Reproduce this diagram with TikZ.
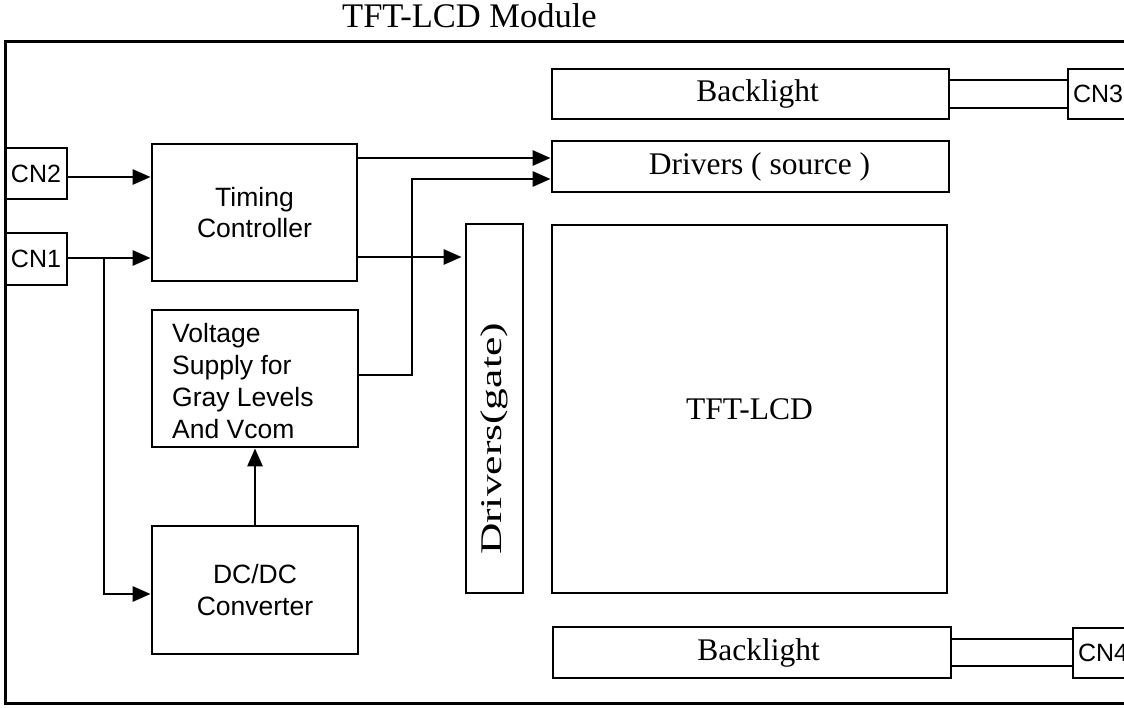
\documentclass[tikz,border=0pt]{standalone}
\usepackage{fontspec}
\usepackage{graphicx}
\setmainfont{Liberation Serif}
\newfontfamily\arialf{Liberation Sans}
\usetikzlibrary{arrows.meta}
\begin{document}
\begin{tikzpicture}[x=1pt,y=-1pt,
  box/.style={draw, line width=2.8pt, inner sep=0pt},
  serif/.style={font=\fontsize{31.5}{38}\selectfont},
  sans/.style={font=\arialf\fontsize{26.5}{31.5}\selectfont},
  cnfont/.style={font=\arialf\fontsize{25}{30}\selectfont},
  arr/.style={line width=2.8pt, -{Triangle[length=18pt,width=15pt]}},
  wire/.style={line width=2.8pt},
  frame/.style={draw, line width=3pt}]
\useasboundingbox (0,0) rectangle (1124,707);
\clip (0,0) rectangle (1124,707);
\fill[white] (0,0) rectangle (1124,707);

% title and module frame
\node[font=\fontsize{34.5}{41}\selectfont, anchor=base, inner sep=0pt] (title) at (469.5,27) {TFT-LCD Module};
\draw[frame] (5,41) rectangle (1140,703);

% connectors (left)
\node[box, cnfont, minimum width=62pt, minimum height=51pt] (cn2) at (36,173.5) {CN2};
\node[box, cnfont, minimum width=62pt, minimum height=52pt] (cn1) at (36,259) {CN1};

% blocks
\node[box, sans, align=center, minimum width=205pt, minimum height=137pt] (tc) at (254.5,212.5) {Timing\\Controller};
\node[box, minimum width=206pt, minimum height=137pt] (vs) at (255,378.5) {};
\node[sans, anchor=base west, inner sep=0pt] (vstxt) at (172,342)
  {\vtop{\baselineskip=32pt\hbox{Voltage}\hbox{Supply for}\hbox{Gray Levels}\hbox{And Vcom}}};
\node[box, sans, align=center, minimum width=206pt, minimum height=128pt] (dc) at (255,590) {DC/DC\\Converter};

\node[box, minimum width=57pt, minimum height=369pt] (gate) at (494.5,408.5) {};
\node[font=\fontsize{30}{36}\selectfont, rotate=90, inner sep=0pt] (gatetxt) at (494.5,439) {\scalebox{1.45}[1]{Drivers(gate)}};

\node[box, serif, minimum width=395pt, minimum height=368pt] (tft) at (749.5,409) {TFT-LCD};
\node[box, serif, minimum width=397pt, minimum height=50pt] (bl1) at (750.5,94) {\hspace*{14pt}Backlight};
\node[box, serif, minimum width=397pt, minimum height=51pt] (src) at (750.5,166.5) {\hspace*{18pt}Drivers ( source )};
\node[box, serif, minimum width=398pt, minimum height=51pt] (bl2) at (752,652.5) {\hspace*{13pt}Backlight};

% connectors (right)
\node[box, cnfont, minimum height=50pt, text width=62pt, inner xsep=5pt, align=left] (cn3) at (1104,94) {CN3};
\node[box, cnfont, minimum height=50pt, text width=62pt, inner xsep=5pt, align=left] (cn4) at (1109,653) {CN4};

% wires
\coordinate (j1) at (104,258);
\coordinate (bend) at (412,179);
\draw[arr] (cn2.east |- 0,177) -- (tc.west |- 0,177);
\draw[arr] (cn1.east |- 0,258) -- (tc.west |- 0,258);
\draw[arr] (j1) |- (dc.west |- 0,594);
\draw[arr] (tc.east |- 0,158) -- (src.west |- 0,158);
\draw[arr] (vs.east |- 0,375) -| (bend) -- (src.west |- bend);
\draw[arr, shorten >=3pt] (tc.east |- 0,257) -- (gate.west |- 0,257);
\draw[arr] (dc.north) -- (vs.south);

\draw[wire] (bl1.east |- 0,80) -- (cn3.west |- 0,80);
\draw[wire] (bl1.east |- 0,108) -- (cn3.west |- 0,108);
\draw[wire] (bl2.east |- 0,639) -- (cn4.west |- 0,639);
\draw[wire] (bl2.east |- 0,666) -- (cn4.west |- 0,666);
\end{tikzpicture}
\end{document}
